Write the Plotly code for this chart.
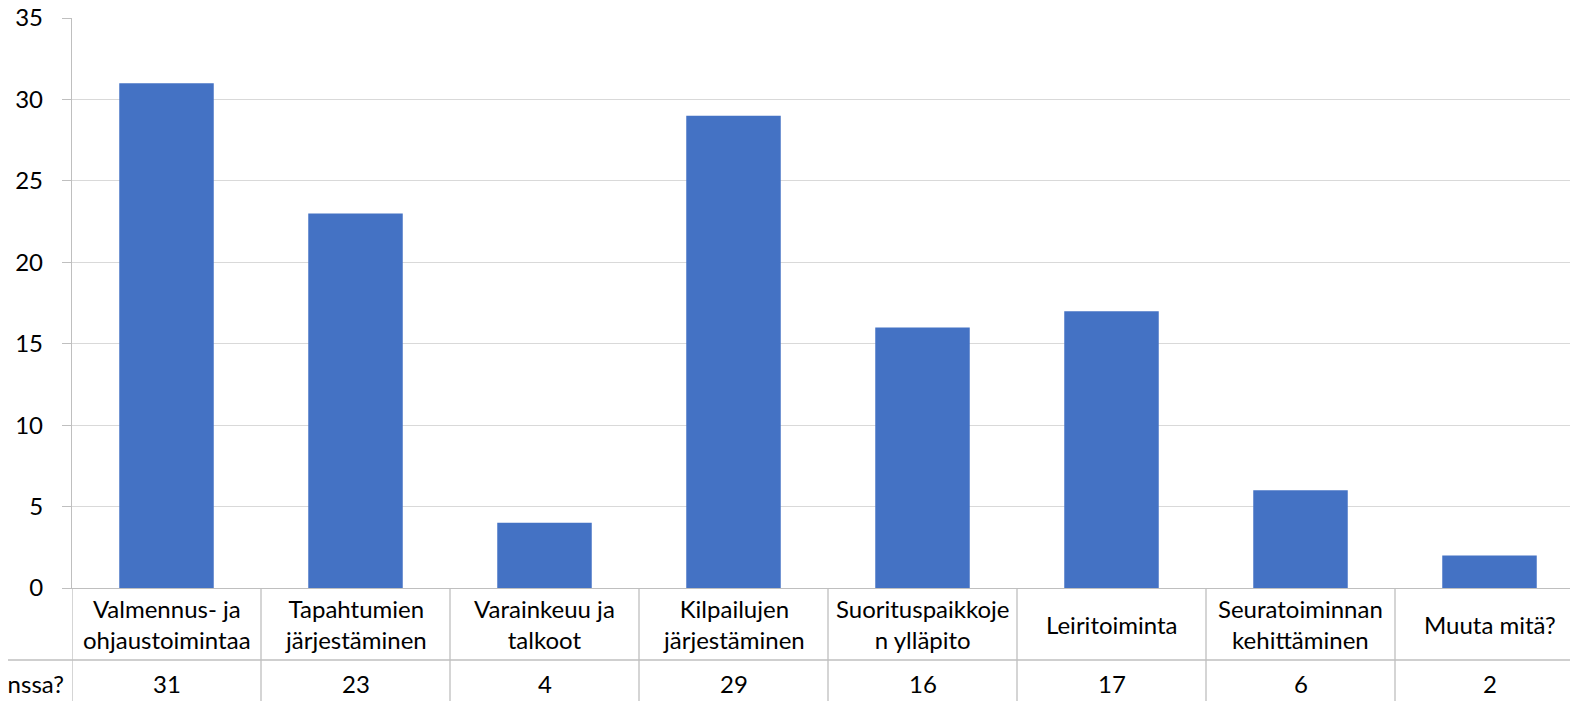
import plotly.graph_objects as go

categories = ["Valmennus- ja ohjaustoimintaa", "Tapahtumien järjestäminen", "Varainkeuu ja talkoot",
              "Kilpailujen järjestäminen", "Suorituspaikkojen ylläpito", "Leiritoiminta",
              "Seuratoiminnan kehittäminen", "Muuta mitä?"]
wrapped_labels = ["Valmennus- ja<br>ohjaustoimintaa", "Tapahtumien<br>järjestäminen", "Varainkeuu ja<br>talkoot",
                  "Kilpailujen<br>järjestäminen", "Suorituspaikkoje<br>n ylläpito", "Leiritoiminta",
                  "Seuratoiminnan<br>kehittäminen", "Muuta mitä?"]
values = [31, 23, 4, 29, 16, 17, 6, 2]
series_name = "Missä olet mukana seuran kanssa?"
y_ticks = [0, 5, 10, 15, 20, 25, 30, 35]

# page body has an 8px margin; figure coords = page coords - 8
OFF = 8
W, H = 1578, 701
ML, MR, MT, MB = 72 - OFF, OFF, 18 - OFF, H - (588 - OFF)
PW = W - ML - MR
PH = H - MT - MB
CAT_W = 189.0
FONT = "Lato"
FS = 24
TXT = "#000000"
LINE = "#bfbfbf"


def py2paper(page_y):
    fy = page_y - OFF
    return (H - MB - fy) / PH


def px2paper(page_x):
    fx = page_x - OFF
    return (fx - ML) / PW


x_idx = list(range(len(categories)))

fig = go.Figure()
fig.add_trace(go.Bar(x=x_idx, y=values, width=0.5, marker=dict(color="#4472C4", line=dict(width=0)),
                     name=series_name, hoverinfo="y"))

shapes = []
for k in range(len(categories) + 1):
    shapes.append(dict(type="line", xref="x", yref="paper", x0=k - 0.5, x1=k - 0.5,
                       y0=0, y1=py2paper(740), line=dict(color=LINE, width=1.3)))
shapes.append(dict(type="line", xref="paper", yref="paper", x0=px2paper(-20), x1=1.01,
                   y0=py2paper(660), y1=py2paper(660), line=dict(color=LINE, width=1.3)))

annotations = []
for i, lab in enumerate(wrapped_labels):
    annotations.append(dict(x=i, y=py2paper(624), xref="x", yref="paper", text=lab, showarrow=False,
                            xanchor="center", yanchor="middle", align="center",
                            font=dict(family=FONT, size=FS, color=TXT)))
    annotations.append(dict(x=i, y=py2paper(683), xref="x", yref="paper", text=str(values[i]), showarrow=False,
                            xanchor="center", yanchor="middle",
                            font=dict(family=FONT, size=FS, color=TXT)))
annotations.append(dict(x=px2paper(66), y=py2paper(683), xref="paper", yref="paper", text=series_name,
                        showarrow=False, xanchor="right", yanchor="middle",
                        font=dict(family=FONT, size=FS, color=TXT)))

fig.update_layout(
    width=W, height=H, autosize=False,
    margin=dict(l=ML, r=MR, t=MT, b=MB, pad=0, autoexpand=False),
    paper_bgcolor="white", plot_bgcolor="white",
    showlegend=False, bargap=0.5,
    shapes=shapes, annotations=annotations,
    font=dict(family=FONT, size=FS, color=TXT),
    xaxis=dict(range=[-0.5, -0.5 + PW / CAT_W], showticklabels=False, showgrid=False, zeroline=False,
               showline=True, linecolor=LINE, linewidth=1.3, ticks="", fixedrange=True, automargin=False),
    yaxis=dict(range=[0, 35], tickvals=y_ticks, showgrid=True, gridcolor="#d9d9d9", gridwidth=1.3,
               zeroline=False, showline=True, linecolor=LINE, linewidth=1.3, ticks="outside",
               ticklen=9, tickcolor=LINE, tickwidth=1.3, ticklabelstandoff=14,
               ticklabeloverflow="allow", automargin=False,
               tickfont=dict(family=FONT, size=FS, color=TXT), fixedrange=True),
)

fig.write_html("out.html")
